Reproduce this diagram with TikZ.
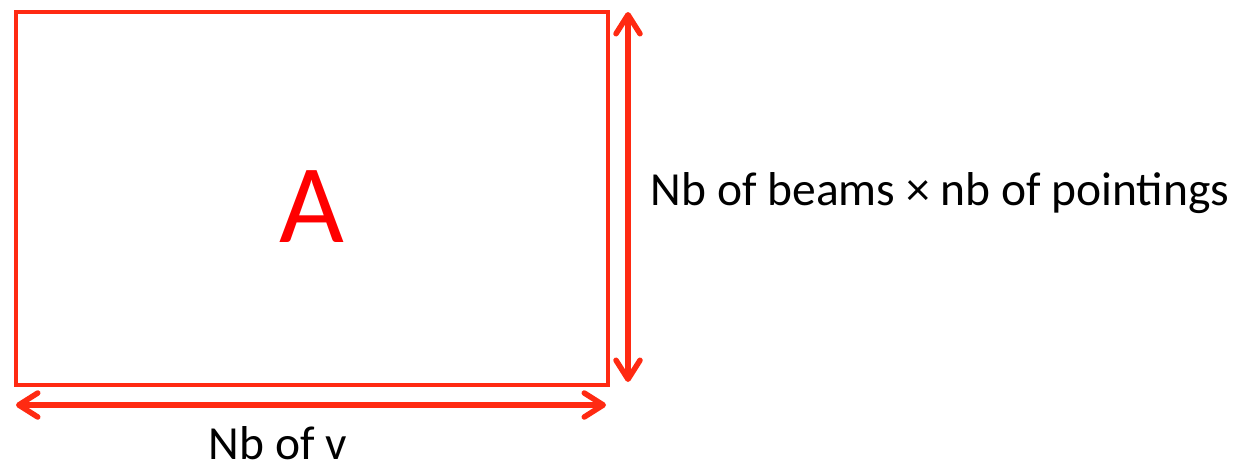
\documentclass[tikz,border=0pt]{standalone}
\usepackage{fontspec}
\setmainfont{Carlito}
\usetikzlibrary{arrows.meta}
\definecolor{boxred}{HTML}{FF2A12}
\definecolor{letterred}{HTML}{FF0000}
\tikzset{
  dim/.style={draw=boxred, line width=5.5pt, {Straight Barb[length=19pt,width=24pt,line cap=round,line join=round]}-{Straight Barb[length=19pt,width=24pt,line cap=round,line join=round]}},
  lbl/.style={font=\fontsize{47.5}{52}\selectfont, text=black, inner sep=0pt},
}
\begin{document}
\begin{tikzpicture}[x=1pt,y=-1pt]
\useasboundingbox (0,0) rectangle (1238,469);
\node[draw=boxred, line width=4pt, minimum width=592pt, minimum height=373pt, inner sep=0pt, anchor=north west] (mat) at (14,10) {};
\node[text=letterred, font=\fontsize{112}{120}\selectfont, inner sep=0pt] (A) at (312,207) {A};
\coordinate (vt) at (628,12);
\coordinate (vb) at (628,382);
\coordinate (hl) at (16,405);
\coordinate (hr) at (606,405);
\draw[dim] (vt) -- (vb);
\draw[dim] (hl) -- (hr);
\node[lbl, anchor=base] (rows) at (940,205) {Nb of beams × nb of pointings};
\node[lbl, anchor=base] (cols) at (278,459) {Nb of v};
\end{tikzpicture}
\end{document}
